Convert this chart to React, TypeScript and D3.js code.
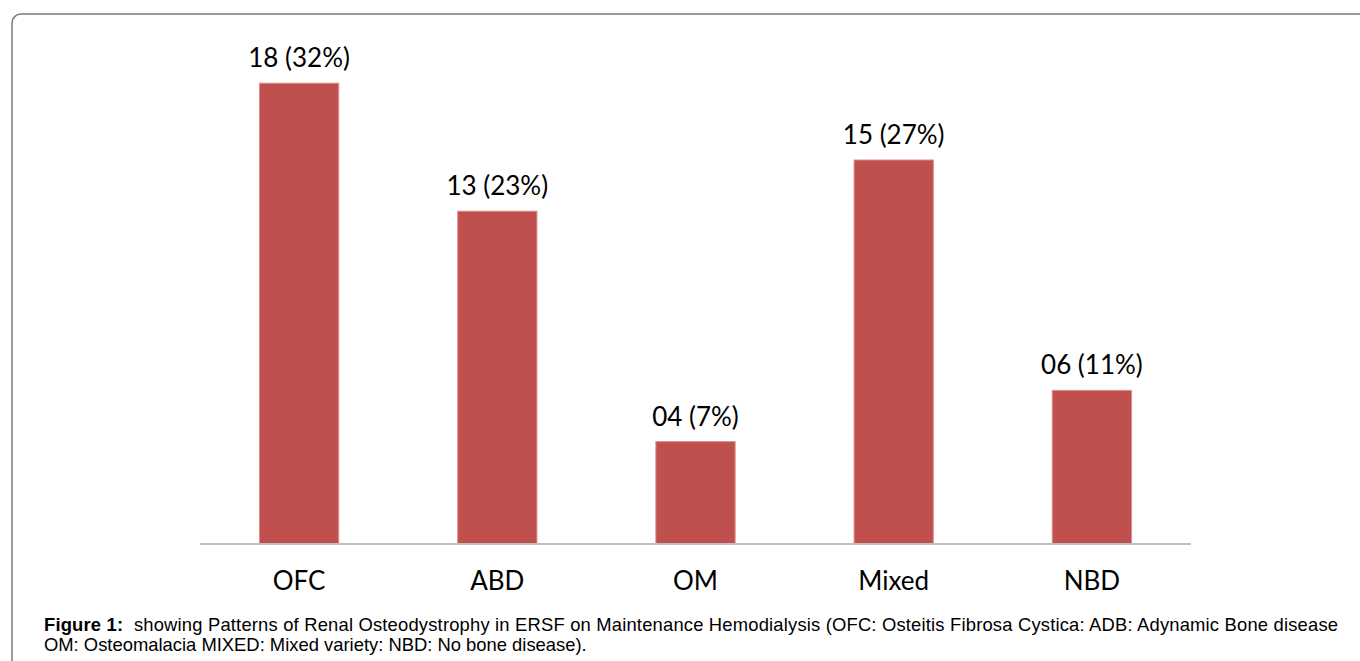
import React, { FC, useMemo } from 'react'
import * as d3 from 'd3'

const categories = ['OFC', 'ABD', 'OM', 'Mixed', 'NBD']
const counts = [18, 13, 4, 15, 6]
const countLabels = ['18', '13', '04', '15', '06']
const percents = [32, 23, 7, 27, 11]

const captionBold = 'Figure 1:'
const captionLine1 =
	'  showing Patterns of Renal Osteodystrophy in ERSF on Maintenance Hemodialysis (OFC: Osteitis Fibrosa Cystica: ADB: Adynamic Bone disease'
const captionLine2 = 'OM: Osteomalacia MIXED: Mixed variety: NBD: No bone disease).'

const W = 1360
const H = 661

const App: FC = () => {
	const x = useMemo(
		() =>
			d3
				.scaleBand()
				.domain(categories)
				.range([200, 1191])
				.paddingInner(0.6)
				.paddingOuter(0.3),
		[]
	)

	const y = useMemo(
		() => d3.scaleLinear().domain([0, 20]).range([544, 32]),
		[]
	)

	const labelFont = 'Lato, "Open Sans", sans-serif'

	return (
		<svg
			width={W}
			height={H}
			style={{ position: 'absolute', left: 0, top: 0, background: '#fff' }}
		>
			{/* frame */}
			<rect
				x={12}
				y={14}
				width={W + 20}
				height={H + 20}
				rx={9}
				fill="none"
				stroke="#7a7a7a"
				strokeWidth={1.5}
			/>

			{/* bars */}
			<g>
				{counts.map((d, i) => (
					<rect
						key={categories[i]}
						x={x(categories[i])}
						y={y(d)}
						width={x.bandwidth()}
						height={y(0) - y(d)}
						fill="#c0504d"
						stroke="#d8908e"
						strokeWidth={1}
					/>
				))}
			</g>

			{/* value labels */}
			<g fontFamily={labelFont} fontSize={26} textAnchor="middle" fill="#000">
				{counts.map((d, i) => (
					<text
						key={categories[i]}
						x={(x(categories[i]) || 0) + x.bandwidth() / 2}
						y={y(d) - 16}
					>
						{`${countLabels[i]} (${percents[i]}%)`}
					</text>
				))}
			</g>

			{/* baseline */}
			<line
				x1={200}
				x2={1191}
				y1={y(0)}
				y2={y(0)}
				stroke="#bfbfbf"
				strokeWidth={2}
			/>

			{/* category labels */}
			<g fontFamily={labelFont} fontSize={26} textAnchor="middle" fill="#000">
				{categories.map(c => (
					<text key={c} x={(x(c) || 0) + x.bandwidth() / 2} y={590}>
						{c}
					</text>
				))}
			</g>

			{/* caption */}
			<g fontFamily='"Liberation Sans", Arial, sans-serif' fontSize={18.4} fill="#000">
				<text
					x={44}
					y={631}
					textLength={1294}
					lengthAdjust="spacing"
					style={{ whiteSpace: 'pre' }}
				>
					<tspan fontWeight="bold">{captionBold}</tspan>
					<tspan>{captionLine1}</tspan>
				</text>
				<text x={44} y={651}>
					{captionLine2}
				</text>
			</g>
		</svg>
	)
}

export default App
